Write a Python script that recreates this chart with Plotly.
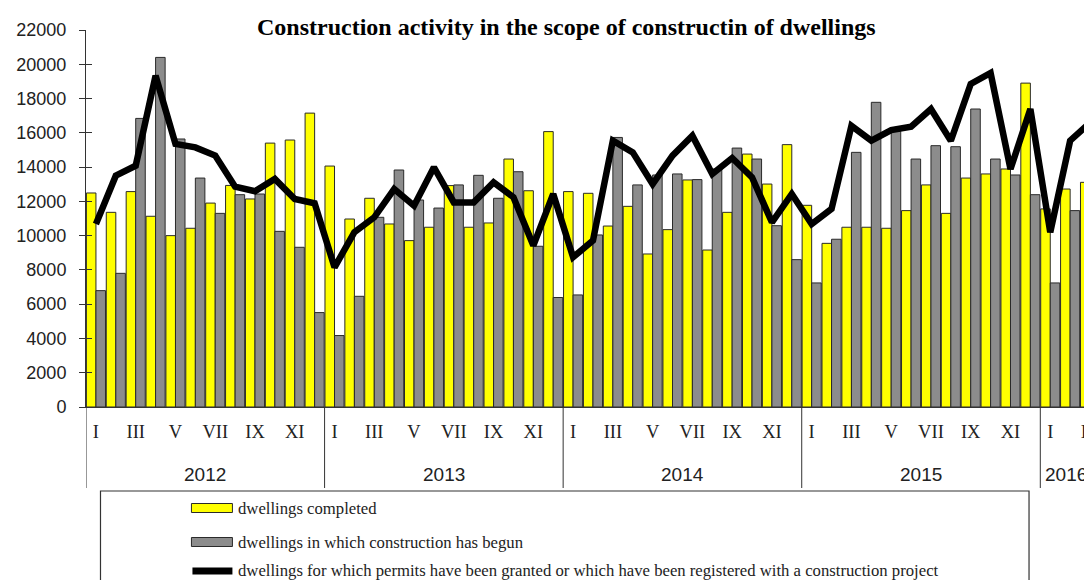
import plotly.graph_objects as go

years = ["2012", "2013", "2014", "2015", "2016"]
month_labels = ["I", "II", "III", "IV", "V", "VI", "VII", "VIII", "IX", "X", "XI", "XII"]
n_2016 = 3

completed = [12490, 11360, 12570, 11130, 10000, 10430, 11900, 12930, 12140, 15400, 15580, 17150,
             14060, 10970, 12180, 10680, 9710, 10490, 12920, 10490, 10740, 14470, 12620, 16070,
             12570, 12470, 10560, 11710, 8930, 10350, 13250, 9160, 11360, 14760, 13010, 15310,
             11770, 9550, 10490, 10490, 10430, 11460, 12960, 11300, 13360, 13600, 13890, 18900,
             11560, 12720, 13110]
begun = [6790, 7800, 16840, 20400, 15640, 13360, 11300, 12390, 12430, 10250, 9320, 5510,
         4170, 6460, 11070, 13830, 12080, 11610, 12960, 13520, 12180, 13730, 9380, 6390,
         6540, 10040, 15730, 12960, 13540, 13600, 13270, 13890, 15110, 14470, 10580, 8600,
         7240, 9790, 14860, 17780, 16090, 14470, 15250, 15190, 17390, 14470, 13540, 12390,
         7240, 11460, 15730]
permits = [10680, 13500, 14080, 19330, 15350, 15150, 14670, 12860, 12590, 13310, 12140, 11890,
           8150, 10200, 11070, 12720, 11750, 13990, 11940, 11940, 13110, 12240, 9420, 12430,
           8740, 9710, 15540, 14860, 13010, 14670, 15830, 13600, 14530, 13400, 10780, 12430,
           10680, 11560, 16410, 15540, 16160, 16360, 17390, 15540, 18850, 19490, 13890, 17390,
           10200, 15540, 16600]

series_names = ["dwellings completed",
                "dwellings in which construction has begun",
                "dwellings for which permits have been granted or which have been registered with a construction project"]
title_text = "Construction activity in the scope of constructin of dwellings"

# categories
cats, tickvals, ticktext = [], [], []
for yi, yr in enumerate(years):
    nm = 12 if yi < len(years) - 1 else n_2016
    for mi in range(nm):
        c = f"{yr} {month_labels[mi]}"
        cats.append(c)
        if mi % 2 == 0:
            tickvals.append(c)
            ticktext.append(month_labels[mi])

# page has an 8px body margin: design in page pixels, convert to figure pixels
OFF = 8
PAGE_W, PAGE_H = 1092, 580
W, H = PAGE_W - OFF, PAGE_H - OFF
PLOT_L, PLOT_T, PLOT_B = 85.5, 30, 407  # page pixels
L = PLOT_L - OFF
T = PLOT_T - OFF
B = H - (PLOT_B - OFF)
R = 0


def px(x):
    return (x - OFF - L) / (W - L - R)


def py(y):
    return (H - B - (y - OFF)) / (H - T - B)


YELLOW = "#FFFF00"
GRAY = "#8C8C8C"
EDGE = "#2a2a2a"

fig = go.Figure()
fig.add_bar(x=cats, y=completed, name=series_names[0], marker=dict(color=YELLOW, line=dict(color=EDGE, width=1)))
fig.add_bar(x=cats, y=begun, name=series_names[1], marker=dict(color=GRAY, line=dict(color=EDGE, width=1)))
fig.add_scatter(x=cats, y=permits, name=series_names[2], mode="lines",
                line=dict(color="black", width=6.5, shape="linear"))
# helper trace so the overlay axis (inside tick marks) is drawn
fig.add_scatter(x=[cats[0]], y=[0], yaxis="y2", mode="markers", marker=dict(opacity=0),
                hoverinfo="skip", showlegend=False)

fig.update_traces(showlegend=False)

shapes = []
# year dividers
bound = 0
for yi, yr in enumerate(years):
    shapes.append(dict(type="line", xref="x", yref="paper", x0=bound - 0.5, x1=bound - 0.5,
                       y0=py(407), y1=py(488), line=dict(color="#333", width=1)))
    bound += 12

# legend box
shapes.append(dict(type="rect", xref="paper", yref="paper", x0=px(100), x1=px(1029), y0=py(491), y1=py(620),
                   line=dict(color="#333", width=1.2), fillcolor="rgba(0,0,0,0)"))
shapes.append(dict(type="rect", xref="paper", yref="paper", x0=px(191), x1=px(232), y0=py(503.5), y1=py(512.5),
                   line=dict(color=EDGE, width=1), fillcolor=YELLOW))
shapes.append(dict(type="rect", xref="paper", yref="paper", x0=px(191), x1=px(232), y0=py(537.5), y1=py(546.5),
                   line=dict(color=EDGE, width=1), fillcolor=GRAY))
shapes.append(dict(type="line", xref="paper", yref="paper", x0=px(192), x1=px(232), y0=py(571), y1=py(571),
                   line=dict(color="black", width=7)))

annotations = []
for yi, yr in enumerate(years):
    if yi < len(years) - 1:
        annotations.append(dict(x=yi * 12 + 5.5, xref="x", y=py(474), yref="paper", text=yr, showarrow=False,
                                font=dict(family="Liberation Sans", size=19, color="#222"),
                                xanchor="center", yanchor="middle"))
    else:
        annotations.append(dict(x=yi * 12 - 0.5, xref="x", y=py(474), yref="paper", text=yr, showarrow=False,
                                font=dict(family="Liberation Sans", size=19, color="#222"),
                                xanchor="left", yanchor="middle", xshift=3))

leg_y = [508, 542, 570]
for name, yy in zip(series_names, leg_y):
    annotations.append(dict(x=px(236), xref="paper", y=py(yy), yref="paper", text=name, showarrow=False,
                            font=dict(family="Liberation Serif", size=16.7, color="#222"),
                            xanchor="left", yanchor="middle"))

annotations.append(dict(x=px(566), xref="paper", y=py(27), yref="paper", text=f"<b>{title_text}</b>",
                        showarrow=False, font=dict(family="Liberation Serif", size=24, color="black"),
                        xanchor="center", yanchor="middle"))

fig.update_layout(
    width=W, height=H,
    margin=dict(l=L, r=R, t=T, b=B, autoexpand=False),
    paper_bgcolor="white", plot_bgcolor="white",
    barmode="group", bargap=0.04, bargroupgap=0,
    showlegend=False,
    shapes=shapes, annotations=annotations,
    xaxis=dict(type="category", categoryorder="array", categoryarray=cats,
               range=[-0.5, 50.1], tickmode="array", tickvals=tickvals, ticktext=ticktext,
               ticks="", showline=True, linecolor="#333", linewidth=1, showgrid=False, zeroline=False,
               tickfont=dict(family="Liberation Serif", size=18.5, color="#222"), ticklabelstandoff=8),
    yaxis=dict(range=[0, 22000], tickmode="linear", tick0=0, dtick=2000, tickformat="d",
               ticks="outside", ticklen=6, tickcolor="#333", showline=True, linecolor="#333", linewidth=1,
               showgrid=False, zeroline=False,
               tickfont=dict(family="Liberation Sans", size=18, color="#222"), ticklabelstandoff=9),
    yaxis2=dict(range=[0, 22000], overlaying="y", side="left", tickmode="linear", tick0=0, dtick=2000,
                ticks="inside", ticklen=6, tickcolor="#333", showticklabels=False, showline=False,
                showgrid=False, zeroline=False),
)

fig.write_html("out.html")
